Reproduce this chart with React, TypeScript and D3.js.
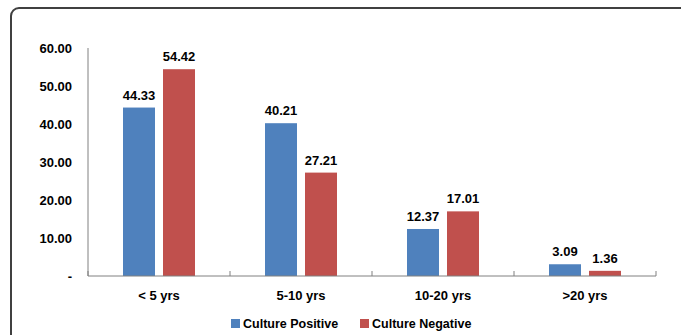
import { useEffect, useRef } from 'react';
import * as d3 from 'd3';

const categories = ['< 5 yrs', '5-10 yrs', '10-20 yrs', '>20 yrs'];
const seriesNames = ['Culture Positive', 'Culture Negative'];
const culturePositive = [44.33, 40.21, 12.37, 3.09];
const cultureNegative = [54.42, 27.21, 17.01, 1.36];
const yTicks = [0, 10, 20, 30, 40, 50, 60];
const colors = ['#4F81BD', '#C0504D'];

const W = 681;
const H = 335;
const FONT = '"Liberation Sans", Arial, sans-serif';

export default function App() {
  const svgRef = useRef<SVGSVGElement>(null);

  useEffect(() => {
    if (!svgRef.current) return;
    const svg = d3.select(svgRef.current);
    svg.selectAll('*').remove();

    // outer frame, runs off the right and bottom edge
    svg.append('rect')
      .attr('x', 11).attr('y', 8)
      .attr('width', 720).attr('height', 400)
      .attr('rx', 8)
      .attr('fill', '#fff')
      .attr('stroke', '#404040')
      .attr('stroke-width', 2);

    const x = d3.scaleBand().domain(categories).range([88, 656]);
    const y = d3.scaleLinear().domain([0, 60]).range([276, 48]);
    const barW = 32;
    const gap = 8;

    const series = [culturePositive, cultureNegative];

    // y tick labels
    svg.append('g').selectAll('text')
      .data(yTicks)
      .join('text')
      .attr('x', 72)
      .attr('y', d => y(d) + 4.5)
      .attr('text-anchor', 'end')
      .attr('font-family', FONT)
      .attr('font-weight', 'bold')
      .attr('font-size', 13)
      .attr('fill', '#000')
      .text(d => d === 0 ? '-' : d.toFixed(2));

    // bars
    series.forEach((vals, si) => {
      const g = svg.append('g');
      g.selectAll('rect')
        .data(vals)
        .join('rect')
        .attr('x', (_, i) => x(categories[i])! + x.bandwidth() / 2 + (si === 0 ? -gap / 2 - barW : gap / 2))
        .attr('y', d => y(d))
        .attr('width', barW)
        .attr('height', d => y(0) - y(d))
        .attr('fill', colors[si]);

      g.selectAll('text')
        .data(vals)
        .join('text')
        .attr('x', (_, i) => x(categories[i])! + x.bandwidth() / 2 + (si === 0 ? -gap / 2 - barW / 2 : gap / 2 + barW / 2))
        .attr('y', d => y(d) - 8)
        .attr('text-anchor', 'middle')
        .attr('font-family', FONT)
        .attr('font-weight', 'bold')
        .attr('font-size', 13)
        .attr('fill', '#000')
        .text(d => d.toFixed(2));
    });

    // axes lines
    svg.append('line')
      .attr('x1', 88).attr('x2', 88)
      .attr('y1', y(60)).attr('y2', y(0))
      .attr('stroke', '#808080').attr('stroke-width', 1);
    svg.append('line')
      .attr('x1', 88).attr('x2', 656)
      .attr('y1', y(0)).attr('y2', y(0))
      .attr('stroke', '#808080').attr('stroke-width', 1);

    const tickXs = categories.map(c => x(c)!).concat([x.range()[1]]);
    svg.append('g').selectAll('line')
      .data(tickXs)
      .join('line')
      .attr('x1', d => d).attr('x2', d => d)
      .attr('y1', y(0) - 5).attr('y2', y(0))
      .attr('stroke', '#808080');

    // category labels
    svg.append('g').selectAll('text')
      .data(categories)
      .join('text')
      .attr('x', d => x(d)! + x.bandwidth() / 2)
      .attr('y', 300)
      .attr('text-anchor', 'middle')
      .attr('font-family', FONT)
      .attr('font-weight', 'bold')
      .attr('font-size', 13)
      .attr('fill', '#000')
      .text(d => d);

    // legend
    const legendX = [231, 360];
    seriesNames.forEach((name, i) => {
      svg.append('rect')
        .attr('x', legendX[i]).attr('y', 319)
        .attr('width', 9).attr('height', 9)
        .attr('fill', colors[i]);
      svg.append('text')
        .attr('x', legendX[i] + 12)
        .attr('y', 328)
        .attr('font-family', FONT)
        .attr('font-weight', 'bold')
        .attr('font-size', 12.5)
        .attr('fill', '#000')
        .text(name);
    });
  }, []);

  return (
    <svg
      ref={svgRef}
      width={W}
      height={H}
      style={{ position: 'absolute', left: 0, top: 0, background: '#fff' }}
    />
  );
}
